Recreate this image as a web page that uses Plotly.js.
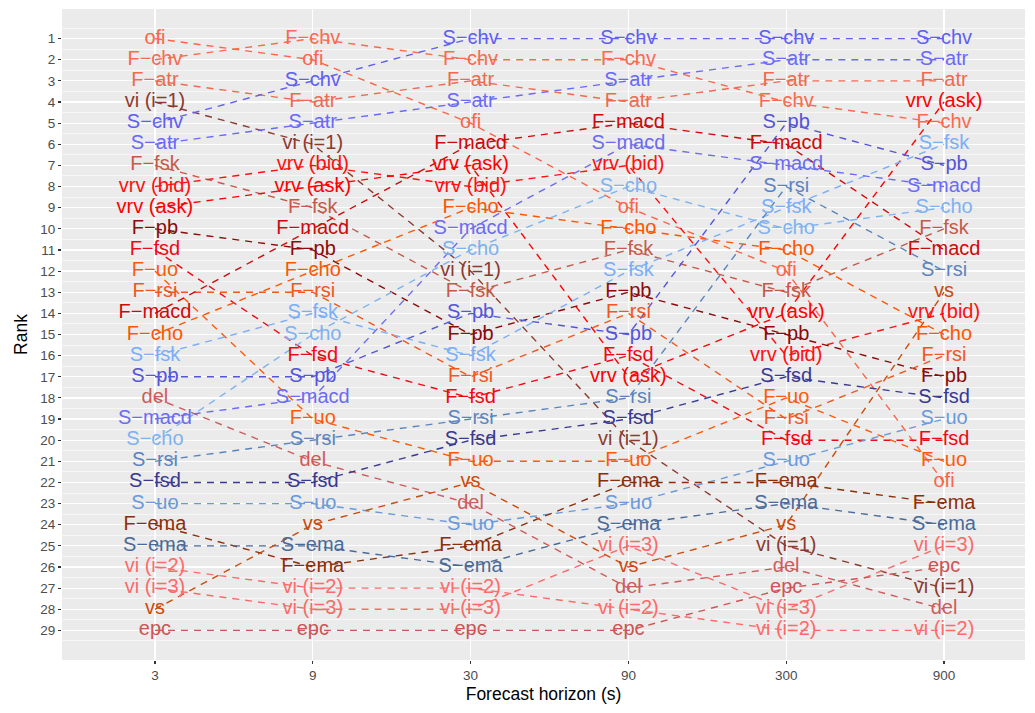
<!DOCTYPE html>
<html>
<head>
<meta charset="utf-8">
<script src="https://cdn.plot.ly/plotly-3.0.1.min.js"></script>
<style>html,body{margin:0;padding:0;background:#fff}#chart{width:1035px;height:713px}</style>
</head>
<body>
<div id="chart"></div>
<script>
// Forecast horizons (s)
const horizons = ['3', '9', '30', '90', '300', '900'];

// Features ordered by rank (1..29) at each horizon
const rank3 = ['ofi','F−chv','F−atr','vi (i=1)','S−chv','S−atr','F−fsk','vrv (bid)','vrv (ask)','F−pb','F−fsd','F−uo','F−rsi','F−macd','F−cho','S−fsk','S−pb','del','S−macd','S−cho','S−rsi','S−fsd','S−uo','F−ema','S−ema','vi (i=2)','vi (i=3)','vs','epc'];
const rank9 = ['F−chv','ofi','S−chv','F−atr','S−atr','vi (i=1)','vrv (bid)','vrv (ask)','F−fsk','F−macd','F−pb','F−cho','F−rsi','S−fsk','S−cho','F−fsd','S−pb','S−macd','F−uo','S−rsi','del','S−fsd','S−uo','vs','S−ema','F−ema','vi (i=2)','vi (i=3)','epc'];
const rank30 = ['S−chv','F−chv','F−atr','S−atr','ofi','F−macd','vrv (ask)','vrv (bid)','F−cho','S−macd','S−cho','vi (i=1)','F−fsk','S−pb','F−pb','S−fsk','F−rsi','F−fsd','S−rsi','S−fsd','F−uo','vs','del','S−uo','F−ema','S−ema','vi (i=2)','vi (i=3)','epc'];
const rank90 = ['S−chv','F−chv','S−atr','F−atr','F−macd','S−macd','vrv (bid)','S−cho','ofi','F−cho','F−fsk','S−fsk','F−pb','F−rsi','S−pb','F−fsd','vrv (ask)','S−rsi','S−fsd','vi (i=1)','F−uo','F−ema','S−uo','S−ema','vi (i=3)','vs','del','vi (i=2)','epc'];
const rank300 = ['S−chv','S−atr','F−atr','F−chv','S−pb','F−macd','S−macd','S−rsi','S−fsk','S−cho','F−cho','ofi','F−fsk','vrv (ask)','F−pb','vrv (bid)','S−fsd','F−uo','F−rsi','F−fsd','S−uo','F−ema','S−ema','vs','vi (i=1)','del','epc','vi (i=3)','vi (i=2)'];
const rank900 = ['S−chv','S−atr','F−atr','vrv (ask)','F−chv','S−fsk','S−pb','S−macd','S−cho','F−fsk','F−macd','S−rsi','vs','vrv (bid)','F−cho','F−rsi','F−pb','S−fsd','S−uo','F−fsd','F−uo','ofi','F−ema','S−ema','vi (i=3)','epc','vi (i=1)','del','vi (i=2)'];

const rankLists = [rank3, rank9, rank30, rank90, rank300, rank900];
const rankTicks = Array.from({length: 29}, (_, i) => i + 1);

// Feature colours
const featureNames = ['ofi','F−chv','F−atr','vi (i=1)','S−chv','S−atr','F−fsk','vrv (bid)','vrv (ask)','F−pb','F−fsd','F−uo','F−rsi','F−macd','F−cho','S−fsk','S−pb','del','S−macd','S−cho','S−rsi','S−fsd','S−uo','F−ema','S−ema','vi (i=2)','vi (i=3)','vs','epc'];
const featureColors = ['#FF6347','#FA6A4E','#EE6A50','#8B3A2F','#6060F0','#6A6AF8','#C45A4A','#FF1010','#FF0000','#8B0A0A','#EE0A14','#FF5A0A','#F0581E','#CD0A0A','#FF5500','#7AAEF8','#5555D8','#CD5C5C','#6C6CF0','#7EB2F0','#5B84BE','#3A3A90','#6A9ADB','#8B2E0A','#4A6A98','#FF6A6A','#FA6A6A','#CD4A0A','#CD5555'];

const FONT = 'Liberation Sans, Arial, Helvetica, sans-serif';
const traces = [];

featureNames.forEach((f, k) => {
  const xs = [], ys = [];
  rankLists.forEach((lst, h) => { xs.push(h); ys.push(lst.indexOf(f) + 1); });
  traces.push({
    type: 'scatter', mode: 'lines', x: xs, y: ys,
    line: {color: featureColors[k], width: 1.4, dash: '7px,6px'},
    hoverinfo: 'skip', showlegend: false
  });
});

const tx = [], ty = [], tt = [], tc = [];
rankLists.forEach((lst, h) => {
  lst.forEach((f, r) => {
    tx.push(h); ty.push(r + 1); tt.push(f);
    tc.push(featureColors[featureNames.indexOf(f)]);
  });
});
traces.push({
  type: 'scatter', mode: 'text', x: tx, y: ty, text: tt,
  textposition: 'middle center',
  textfont: {family: FONT, size: 20, color: tc},
  cliponaxis: false, showlegend: false, hoverinfo: 'text'
});

const layout = {
  width: 1035, height: 713,
  margin: {l: 62, r: 10, t: 9, b: 53},
  paper_bgcolor: '#ffffff', plot_bgcolor: '#EBEBEB',
  showlegend: false,
  font: {family: FONT},
  xaxis: {
    range: [-0.589, 5.513],
    tickmode: 'array', tickvals: [0, 1, 2, 3, 4, 5], ticktext: horizons,
    showgrid: true, gridcolor: '#ffffff', gridwidth: 1.2, zeroline: false,
    ticks: 'outside', ticklen: 3, tickwidth: 1.1, tickcolor: '#333333',
    tickfont: {family: FONT, size: 13.5, color: '#4D4D4D'},
    showline: false,
    title: {text: 'Forecast horizon (s)', font: {family: FONT, size: 17.5, color: '#000'}, standoff: 5}
  },
  yaxis: {
    range: [30.4, -0.4],
    tickmode: 'array', tickvals: rankTicks, ticktext: rankTicks.map(String),
    showgrid: true, gridcolor: '#ffffff', gridwidth: 1.2, zeroline: false,
    ticks: 'outside', ticklen: 3, tickwidth: 1.1, tickcolor: '#333333',
    tickfont: {family: FONT, size: 13.5, color: '#4D4D4D'},
    minor: {dtick: 1, tick0: 0.5, showgrid: true, gridcolor: '#ffffff', gridwidth: 0.55, ticks: ''},
    showline: false,
    title: {text: 'Rank', font: {family: FONT, size: 17.5, color: '#000'}, standoff: 8}
  }
};

Plotly.newPlot('chart', traces, layout, {displayModeBar: false, staticPlot: true});
</script>
</body>
</html>
